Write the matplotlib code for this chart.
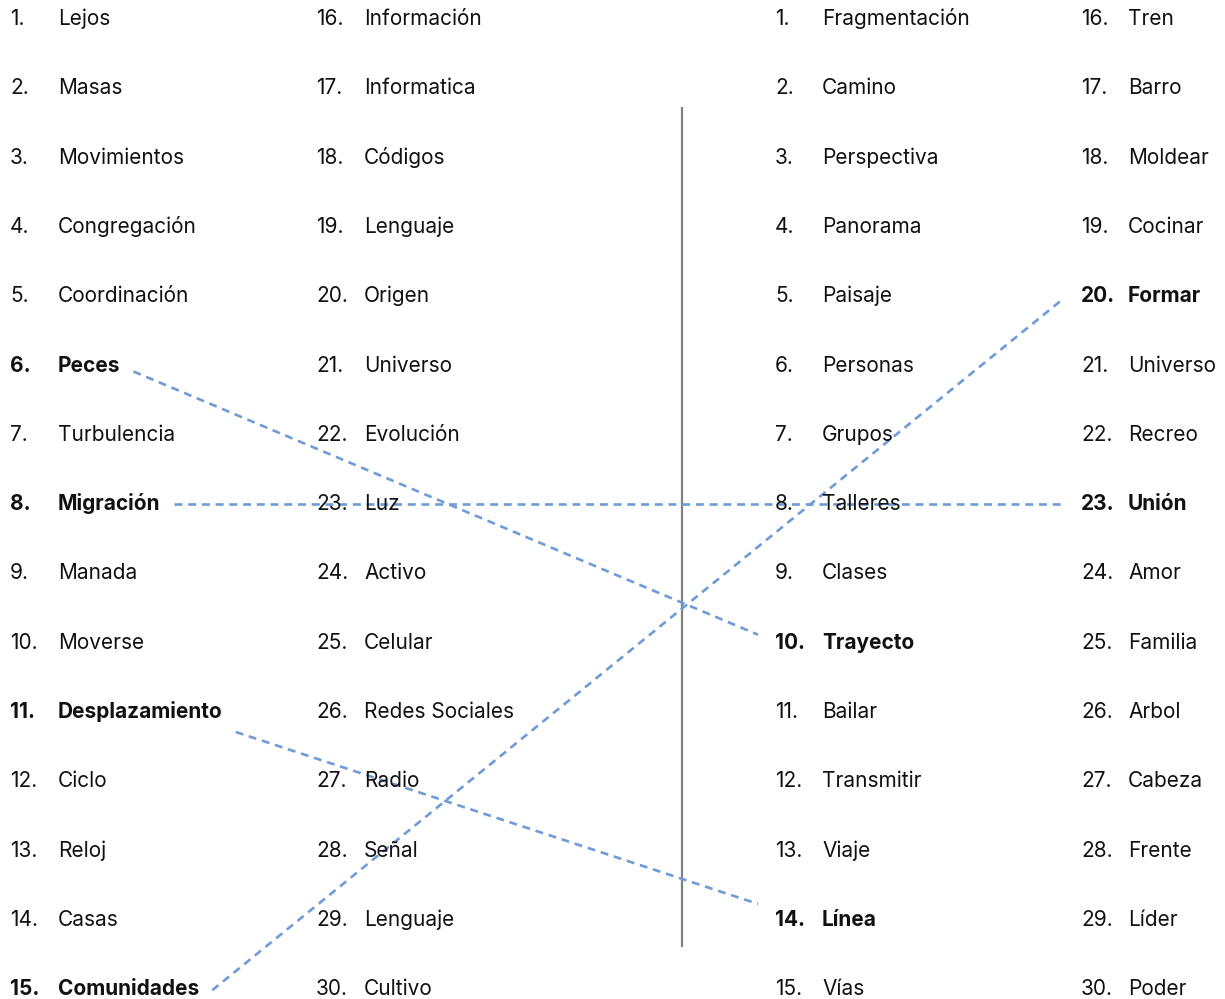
import matplotlib
matplotlib.use("Agg")
import matplotlib.pyplot as plt

# word lists, left panel (1-15, 16-30) and right panel (1-15, 16-30)
LEFT_A = ["Lejos", "Masas", "Movimientos", "Congregación", "Coordinación",
          "Peces", "Turbulencia", "Migración", "Manada", "Moverse",
          "Desplazamiento", "Ciclo", "Reloj", "Casas", "Comunidades"]
LEFT_B = ["Información", "Informatica", "Códigos", "Lenguaje", "Origen",
          "Universo", "Evolución", "Luz", "Activo", "Celular",
          "Redes Sociales", "Radio", "Señal", "Lenguaje", "Cultivo"]
RIGHT_A = ["Fragmentación", "Camino", "Perspectiva", "Panorama", "Paisaje",
           "Personas", "Grupos", "Talleres", "Clases", "Trayecto",
           "Bailar", "Transmitir", "Viaje", "Línea", "Vías"]
RIGHT_B = ["Tren", "Barro", "Moldear", "Cocinar", "Formar",
           "Universo", "Recreo", "Unión", "Amor", "Familia",
           "Arbol", "Cabeza", "Frente", "Líder", "Poder"]

# links: left item number -> right item number
LINK_LEFT = [6, 8, 11, 15]
LINK_RIGHT = [10, 23, 14, 20]

# ---- layout -------------------------------------------------------------
W, H = 1225, 999
NUM_X = [10, 316, 775, 1081]
WORD_X = [58, 364, 822, 1128]
ROW0, ROW_STEP = 25, 69.3
FS = 15
TXT = "#111111"
BLUE = "#6f9bd8"
# vertical nudges (px from baseline) for line start / end
NUDGE = [(0, -14), (-6, -6), (14, -22), (-5, -4)]

plt.rcParams["font.family"] = ["Inter", "DejaVu Sans"]

fig = plt.figure(figsize=(W / 100, H / 100), dpi=100)
ax = fig.add_axes([0, 0, 1, 1])
ax.set_xlim(0, W)
ax.set_ylim(H, 0)
ax.axis("off")

columns = [LEFT_A, LEFT_B, RIGHT_A, RIGHT_B]
bold_left = set(LINK_LEFT)
bold_right = set(LINK_RIGHT)
handles = {}
for c, words in enumerate(columns):
    for i, w in enumerate(words):
        n = i + 1 + (15 if c in (1, 3) else 0)
        bold = (n in bold_left) if c < 2 else (n in bold_right)
        fw = "bold" if bold else "normal"
        y = ROW0 + ROW_STEP * i
        tn = ax.text(NUM_X[c], y, f"{n}.", fontsize=FS, fontweight=fw,
                     color=TXT, va="baseline", ha="left")
        tw = ax.text(WORD_X[c], y, w, fontsize=FS, fontweight=fw,
                     color=TXT, va="baseline", ha="left")
        handles[(c < 2, n)] = (tn, tw, y)

# separator
ax.plot([682, 682], [107, 947], color="#808080", lw=1.6, solid_capstyle="butt")

fig.canvas.draw()
r = fig.canvas.get_renderer()
inv = ax.transData.inverted()

for (a, b), (d0, d1) in zip(zip(LINK_LEFT, LINK_RIGHT), NUDGE):
    _, tw, y0 = handles[(True, a)]
    tn, _, y1 = handles[(False, b)]
    x0 = inv.transform((tw.get_window_extent(r).x1, 0))[0] + 13
    x1 = inv.transform((tn.get_window_extent(r).x0, 0))[0] - 17
    ax.plot([x0, x1], [y0 + d0, y1 + d1], color=BLUE, lw=1.9,
            linestyle=(0, (3.0, 2.2)), dash_capstyle="butt")

fig.savefig("out.png", dpi=100)
